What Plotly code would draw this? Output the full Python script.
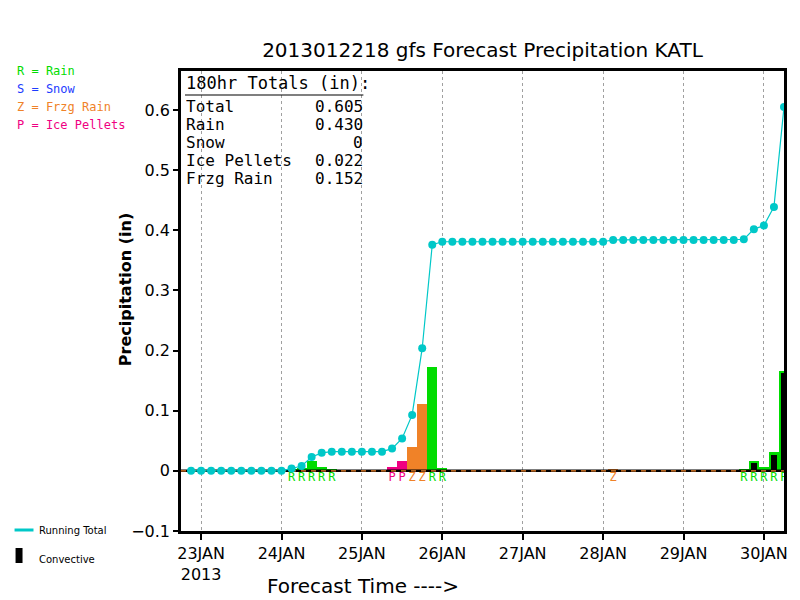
import plotly.graph_objects as go
import pandas as pd

# ---------------- data ----------------
title_text = "2013012218 gfs Forecast Precipitation KATL"
run_init = "2013-01-22 18:00"
x_start, x_end = "2013-01-22 18:00", "2013-01-30 06:00"

# forecast hours of the running-total points (every 3 h, 3..180)
fh_points = list(range(3, 183, 3))
running_total = [
    0.000, 0.000, 0.000, 0.000, 0.000, 0.000, 0.000, 0.000, 0.000, 0.000,
    0.004, 0.008, 0.023, 0.030, 0.032, 0.032, 0.032, 0.032, 0.032, 0.032,
    0.037, 0.054, 0.093, 0.204, 0.376, 0.381, 0.381, 0.381, 0.381, 0.381,
    0.381, 0.381, 0.381, 0.381, 0.381, 0.381, 0.381, 0.381, 0.381, 0.381,
    0.381, 0.381, 0.384, 0.384, 0.384, 0.384, 0.384, 0.384, 0.384, 0.384,
    0.384, 0.384, 0.384, 0.384, 0.384, 0.385, 0.402, 0.408, 0.439, 0.605,
]

rain_fh = [33, 36, 39, 42, 45, 75, 78, 168, 171, 174, 177, 180]
rain_in = [0.003, 0.004, 0.016, 0.007, 0.002, 0.173, 0.005, 0.002, 0.017, 0.007, 0.031, 0.166]

ice_fh = [63, 66]
ice_in = [0.006, 0.017]

frzg_fh = [69, 72, 129]
frzg_in = [0.040, 0.112, 0.003]

conv_fh = [171, 177, 180]
conv_in = [0.013, 0.027, 0.162]

day_ticks = ["2013-01-23", "2013-01-24", "2013-01-25", "2013-01-26",
             "2013-01-27", "2013-01-28", "2013-01-29", "2013-01-30"]
day_labels = ["23JAN<br>2013", "24JAN", "25JAN", "26JAN", "27JAN", "28JAN", "29JAN", "30JAN"]

y_ticks = [-0.1, 0, 0.1, 0.2, 0.3, 0.4, 0.5, 0.6]
y_labels = ["\u22120.1", "0", "0.1", "0.2", "0.3", "0.4", "0.5", "0.6"]

totals_labels = ["Total", "Rain", "Snow", "Ice Pellets", "Frzg Rain"]
totals_values = ["0.605", "0.430", "0", "0.022", "0.152"]

legend_items = [("R = Rain", "#00DC00"), ("S = Snow", "#1E3CFF"),
                ("Z = Frzg Rain", "#F08228"), ("P = Ice Pellets", "#F00082")]

# ---------------- styling ----------------
GREEN, ORANGE, PINK, CYAN = "#00DC00", "#F08228", "#F00082", "#00C8C8"
FONT = "DejaVu Sans"
MONO = "DejaVu Sans Mono"
OFF = 8                      # page body margin in the browser
W, H = 800 - OFF, 600 - OFF
L, T = 181 - OFF, 71 - OFF
R, B = W - (786 - OFF), H - (531 - OFF)
PW, PH = W - L - R, H - T - B


def vt(fh_list):
    t0 = pd.Timestamp(run_init)
    return [t0 + pd.Timedelta(hours=h) for h in fh_list]


def px(x):
    return (x - OFF - L) / PW


def py(y):
    return (H - B - (y - OFF)) / PH


bar_w = 3 * 3600 * 1000

fig = go.Figure()
fig.add_trace(go.Bar(x=vt(rain_fh), y=rain_in, width=bar_w, marker=dict(color=GREEN, line_width=0)))
fig.add_trace(go.Bar(x=vt(ice_fh), y=ice_in, width=bar_w, marker=dict(color=PINK, line_width=0)))
fig.add_trace(go.Bar(x=vt(frzg_fh), y=frzg_in, width=bar_w, marker=dict(color=ORANGE, line_width=0)))
fig.add_trace(go.Bar(x=vt(conv_fh), y=conv_in, width=bar_w * 0.6, marker=dict(color="black", line_width=0)))

# zero baseline (black with orange dashes)
fig.add_trace(go.Scatter(x=[x_start, x_end], y=[0, 0], mode="lines",
                         line=dict(color="black", width=2.5), hoverinfo="skip"))
fig.add_trace(go.Scatter(x=[x_start, x_end], y=[0, 0], mode="lines",
                         line=dict(color=ORANGE, width=1.2, dash="5px,5px"), hoverinfo="skip"))

# type letters under bars
for fhs, letter, col in [(rain_fh, "R", GREEN), (ice_fh, "P", PINK), (frzg_fh, "Z", ORANGE)]:
    fig.add_trace(go.Scatter(x=vt(fhs), y=[-0.0125] * len(fhs), mode="text",
                             text=[letter] * len(fhs),
                             textfont=dict(family=MONO, size=12, color=col),
                             hoverinfo="skip"))

# running total
fig.add_trace(go.Scatter(x=vt(fh_points), y=running_total, mode="lines+markers",
                         line=dict(color=CYAN, width=1.2),
                         marker=dict(color=CYAN, size=8)))

fig.update_layout(
    width=W, height=H, showlegend=False, barmode="overlay", bargap=0,
    plot_bgcolor="white", paper_bgcolor="white",
    margin=dict(l=L, r=R, t=T, b=B, pad=0),
    font=dict(family=FONT, color="black"),
    title=dict(text=title_text, x=0.5, xref="paper", xanchor="center",
               y=1 - (50 - OFF) / H, yref="container", yanchor="middle",
               font=dict(size=20, family=FONT, color="black")),
)
fig.update_xaxes(type="date", range=[x_start, x_end], tickmode="array",
                 tickvals=day_ticks, ticktext=day_labels, tickangle=0,
                 ticks="outside", ticklen=6, tickwidth=1.5, tickcolor="black",
                 tickfont=dict(size=16, family=FONT),
                 showgrid=True, gridcolor="#A0A0A0", griddash="dot", gridwidth=1,
                 showline=True, mirror=True, linecolor="black", linewidth=2.5,
                 zeroline=False)
fig.update_yaxes(range=[-0.1, 0.665], tickmode="array", tickvals=y_ticks, ticktext=y_labels,
                 ticks="outside", ticklen=5, tickwidth=1.5, tickcolor="black",
                 tickfont=dict(size=16, family=FONT),
                 showgrid=False, zeroline=False,
                 showline=True, mirror=True, linecolor="black", linewidth=2.5)

ann = []
# axis titles
ann.append(dict(text="<b>Precipitation (in)</b>", x=px(125), y=py(290), xref="paper", yref="paper",
                textangle=-90, showarrow=False, font=dict(size=16, family=FONT, color="black"),
                xanchor="center", yanchor="middle"))
ann.append(dict(text="Forecast Time ---->", x=px(265), y=py(586), xref="paper", yref="paper",
                showarrow=False, font=dict(size=20, family=FONT, color="black"),
                xanchor="left", yanchor="middle"))
# totals box
ann.append(dict(text="180hr Totals (in):", x=px(184), y=py(83), xref="paper", yref="paper",
                showarrow=False, font=dict(size=17, family=MONO, color="black"),
                xanchor="left", yanchor="middle", height=20, valign="middle"))
for i, (lab, val) in enumerate(zip(totals_labels, totals_values)):
    yy = 106 + 18 * i
    ann.append(dict(text=lab, x=px(184), y=py(yy), xref="paper", yref="paper",
                    showarrow=False, font=dict(size=16, family=MONO, color="black"),
                    xanchor="left", yanchor="middle", height=18, valign="middle"))
    ann.append(dict(text=val, x=px(366), y=py(yy), xref="paper", yref="paper",
                    showarrow=False, font=dict(size=16, family=MONO, color="black"),
                    xanchor="right", yanchor="middle", height=18, valign="middle"))
# precip type legend
for i, (txt, col) in enumerate(legend_items):
    ann.append(dict(text=txt, x=px(14), y=py(71 + 18 * i), xref="paper", yref="paper",
                    showarrow=False, font=dict(size=12, family=MONO, color=col),
                    xanchor="left", yanchor="middle"))
ann.append(dict(text="Running Total", x=px(37), y=py(530), xref="paper", yref="paper",
                showarrow=False, font=dict(size=10, family=FONT, color="black"),
                xanchor="left", yanchor="middle"))
ann.append(dict(text="Convective", x=px(37), y=py(559), xref="paper", yref="paper",
                showarrow=False, font=dict(size=10, family=FONT, color="black"),
                xanchor="left", yanchor="middle"))
fig.update_layout(annotations=ann)

shapes = [
    dict(type="line", xref="paper", yref="paper", x0=px(185), x1=px(364), y0=py(95), y1=py(95),
         line=dict(color="black", width=1.2)),
    dict(type="line", xref="paper", yref="paper", x0=px(14), x1=px(33), y0=py(530), y1=py(530),
         line=dict(color=CYAN, width=3)),
    dict(type="rect", xref="paper", yref="paper", x0=px(15), x1=px(22), y0=py(563), y1=py(548),
         fillcolor="black", line=dict(width=0)),
]
fig.update_layout(shapes=shapes)

fig.write_html("out.html")
